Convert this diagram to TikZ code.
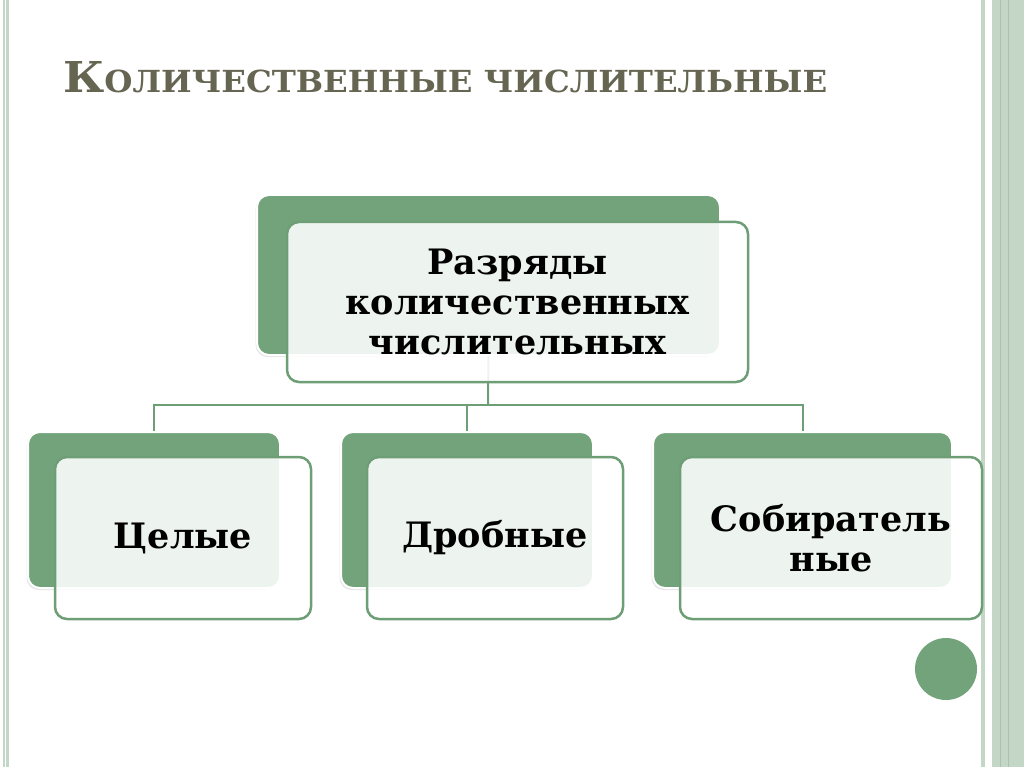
\documentclass[tikz,border=0pt]{standalone}
\usepackage{fontspec}
\usepackage{graphicx}
\setmainfont{DejaVu Serif}
\usetikzlibrary{shadows}

\definecolor{leaf}{HTML}{72A37A}
\definecolor{leafline}{HTML}{6E9E76}
\definecolor{stripe}{HTML}{C4D7C7}
\definecolor{stripedark}{HTML}{A9C4AE}
\definecolor{titlegray}{HTML}{656552}

\tikzset{
  backbox/.style={rectangle, rounded corners=12pt, fill=leaf, draw=white,
    line width=2pt, minimum height=156pt, inner sep=0pt,
    drop shadow={opacity=0.2, shadow xshift=-1.5pt, shadow yshift=-2pt}},
  frontbox/.style={rectangle, rounded corners=12pt, draw=leafline,
    line width=2.5pt, fill=white, fill opacity=0.88, text opacity=1,
    minimum height=162pt, align=center, inner sep=0pt,
    font={\bfseries\fontsize{35}{40}\selectfont}},
  link/.style={draw=leafline, line width=2pt},
}

\begin{document}
\begin{tikzpicture}[x=1pt,y=-1pt]
    \useasboundingbox (0,0) rectangle (1024,767);

    % ---- page frame ----
    \fill[stripe] (3,0) rectangle (9,767);
    \draw[white, line width=1pt] (5.5,0) -- (5.5,767);
    \fill[stripe] (981,0) rectangle (985,767);
    \fill[stripe] (992,0) rectangle (1024,767);
    \draw[stripedark, line width=1pt] (1000,0) -- (1000,767);
    \draw[stripedark, line width=1pt] (1008,0) -- (1008,767);

    % ---- title ----
    \node[anchor=base west, inner sep=0pt, text=titlegray] (title) at (63,93)
        {\resizebox{764pt}{31pt}{\bfseries\fontsize{42}{42}\selectfont К\fontsize{30}{30}\selectfont ОЛИЧЕСТВЕННЫЕ ЧИСЛИТЕЛЬНЫЕ}};

    % ---- green back cards ----
    \node[backbox, minimum width=463pt, minimum height=160pt] (topback) at (488.5,275) {};
    \node[backbox, minimum width=252pt] (backA) at (154,510) {};
    \node[backbox, minimum width=252pt] (backB) at (467,510) {};
    \node[backbox, minimum width=299pt] (backC) at (802.5,510) {};

    % ---- tree lines ----
    \coordinate (bus) at (488,405);
    \draw[link] (topback.south) -- (bus);
    \draw[link] (backA.north) |- (bus) -| (backC.north);
    \draw[link] (backB.north) -- (backB.north |- bus);

    % ---- front cards with text ----
    \node[frontbox, minimum width=461pt, minimum height=160pt] (top) at (517.5,302)
        {Разряды\\количественных\\числительных};
    \node[frontbox, minimum width=256pt] (whole) at (183,538) {Целые};
    \node[frontbox, minimum width=256pt] (fraction) at (495,538) {Дробные};
    \node[frontbox, minimum width=302pt] (collective) at (831,538) {Собиратель\\ные};

    % ---- corner dot ----
    \node[circle, fill=leaf, minimum size=62pt, inner sep=0pt] (dot) at (946,669) {};
\end{tikzpicture}
\end{document}
